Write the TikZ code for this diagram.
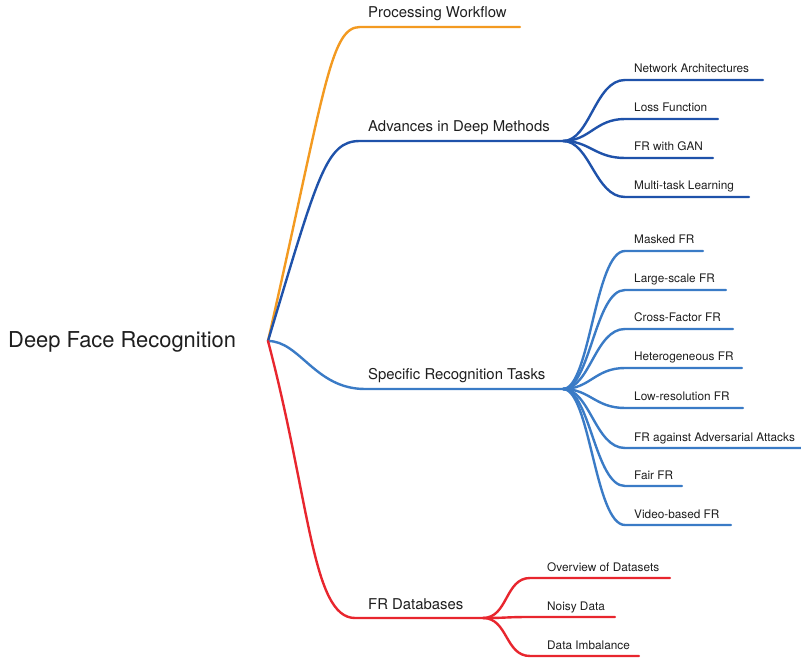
\documentclass[tikz,border=0pt]{standalone}
\usepackage{fontspec}
\setmainfont{TeX Gyre Heros}
\definecolor{corange}{HTML}{F39A21}
\definecolor{cdblue}{HTML}{1F52AA}
\definecolor{clblue}{HTML}{3A7BC6}
\definecolor{cred}{HTML}{E8262E}
\definecolor{txt}{HTML}{1E1E1E}
\begin{document}
\begin{tikzpicture}[x=1pt,y=-1pt,
  br/.style={line width=2.4pt, line cap=round},
  lroot/.style={font=\fontsize{21.9}{24}\selectfont, text=txt, anchor=base west, inner sep=0pt},
  lone/.style={font=\fontsize{14.9}{16}\selectfont, text=txt, anchor=base west, inner sep=0pt},
  ltwo/.style={font=\fontsize{11.8}{13}\selectfont, text=txt, anchor=base west, inner sep=0pt}]
\useasboundingbox (0,0) rectangle (801,660);

% root
\node[lroot] (rootlbl) at (8,348) {Deep Face Recognition};
\coordinate (root) at (268,341);

% level 1
\coordinate (pwS) at (360,27);  \coordinate (pwE) at (520,27);
\coordinate (adS) at (360,141); \coordinate (adH) at (563,141);
\coordinate (spS) at (365,389); \coordinate (spH) at (563,389);
\coordinate (dbS) at (355,618); \coordinate (dbH) at (483,618);

\node[lone] (pw) at (368,18) {Processing Workflow};
\node[lone] (ad) at (368,132) {Advances in Deep Methods};
\node[lone] (sp) at (368,380) {Specific Recognition Tasks};
\node[lone] (db) at (368,609) {FR Databases};

\draw[br,corange] (root) .. controls (325,90) and (330,27) .. (pwS) -- (pwE);
\draw[br,cdblue] (root) .. controls (318,175) and (326,141) .. (adS) -- (adH);
\draw[br,clblue] (root) .. controls (300,341) and (315,389) .. (spS) -- (spH);
\draw[br,cred] (root) .. controls (310,500) and (312,618) .. (dbS) -- (dbH);

% level 2: Advances
\foreach \n/\y/\e/\t in {na/80/763/Network Architectures, lf/119/718/Loss Function, gan/158/713/FR with GAN, mtl/197/749/Multi-task Learning}{
  \coordinate (\n-s) at (625,\y);
  \coordinate (\n-e) at (\e,\y);
  \node[ltwo] (\n) at (634,\y-7) {\t};
  \draw[br,cdblue] (adH) .. controls (590,141) and (595,\y) .. (\n-s) -- (\n-e);
}

% level 2: Specific
\foreach \n/\y/\e/\t in {mfr/251/703/Masked FR, lsfr/290/726/Large-scale FR, cffr/329/733/Cross-Factor FR, hfr/368/742/Heterogeneous FR, lrfr/408/743/Low-resolution FR, adv/448/801/FR against Adversarial Attacks, ffr/486/682/Fair FR, vfr/525/731/Video-based FR}{
  \coordinate (\n-s) at (625,\y);
  \coordinate (\n-e) at (\e,\y);
  \node[ltwo] (\n) at (634,\y-7) {\t};
  \draw[br,clblue] (spH) .. controls (590,389) and (595,\y) .. (\n-s) -- (\n-e);
}

% level 2: Databases
\foreach \n/\y/\e/\t in {ov/578/670/Overview of Datasets, nd/617/615/Noisy Data, di/656/639/Data Imbalance}{
  \coordinate (\n-s) at (530,\y);
  \coordinate (\n-e) at (\e,\y);
  \node[ltwo] (\n) at (547,\y-7) {\t};
  \draw[br,cred] (dbH) .. controls (508,618) and (505,\y) .. (\n-s) -- (\n-e);
}
\end{tikzpicture}
\end{document}
